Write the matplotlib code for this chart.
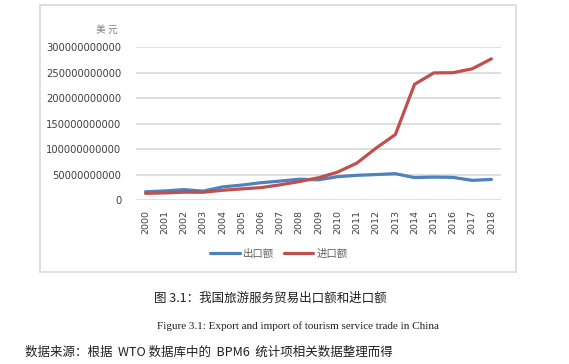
import matplotlib
matplotlib.use("Agg")
import matplotlib.pyplot as plt
from matplotlib.patches import Rectangle
from matplotlib.ticker import FuncFormatter

plt.rcParams['font.family'] = ['Noto Sans CJK SC', 'DejaVu Sans']

years = [str(y) for y in range(2000, 2019)]
export_vals = [16.2e9, 17.8e9, 20.4e9, 17.4e9, 25.7e9, 29.3e9, 33.9e9, 37.2e9, 40.8e9, 39.7e9,
               45.8e9, 48.5e9, 50.0e9, 51.7e9, 44.0e9, 45.0e9, 44.4e9, 38.6e9, 40.4e9]
import_vals = [13.1e9, 13.9e9, 15.4e9, 15.2e9, 19.1e9, 21.8e9, 24.3e9, 29.8e9, 36.2e9, 43.7e9,
               54.9e9, 72.6e9, 102.0e9, 128.6e9, 227.3e9, 249.7e9, 250.1e9, 257.7e9, 277.3e9]
series_names = ['出口额', '进口额']
y_ticks = [0, 50e9, 100e9, 150e9, 200e9, 250e9, 300e9]

fig = plt.figure(figsize=(5.69, 3.64), dpi=100)
fig.patch.set_facecolor('white')

# chart frame
fig.patches.append(Rectangle((40/569, 1-272/364), (516-40)/569, (272-5)/364,
                             transform=fig.transFigure, fill=False,
                             edgecolor='#d9d9d9', linewidth=1.2, zorder=0))

ax = fig.add_axes([136/569, 1-200/364, (501-136)/569, (200-47.3)/364])
x = list(range(len(years)))
l1, = ax.plot(x, export_vals, color='#4F81BD', linewidth=2.3, solid_capstyle='round', label=series_names[0])
l2, = ax.plot(x, import_vals, color='#C0504D', linewidth=2.3, solid_capstyle='round', label=series_names[1])

ax.set_xlim(-0.5, len(years)-0.5)
ax.set_ylim(0, 300e9)
ax.set_yticks(y_ticks)
ax.yaxis.set_major_formatter(FuncFormatter(lambda v, p: f"{int(round(v))}"))
ax.set_xticks(x)
ax.set_xticklabels(years, rotation=90, fontsize=6.8, color='#404040', family='DejaVu Sans')
for lab in ax.get_yticklabels():
    lab.set_fontsize(7.2)
    lab.set_color('#404040')
    lab.set_family('DejaVu Sans')
ax.tick_params(axis='both', length=0)
ax.tick_params(axis='y', pad=10.5)
ax.tick_params(axis='x', pad=7)
ax.grid(axis='y', color='#d9d9d9', linewidth=1.2)
ax.set_axisbelow(True)
for s in ax.spines.values():
    s.set_visible(False)

fig.text(118/569, 1-30/364, '美 元', ha='right', va='center', fontsize=7, color='#808080')

fig.legend(handles=[l1, l2], loc='center', bbox_to_anchor=(279/569, 1-254/364), ncol=2,
           frameon=False, fontsize=7.5, handlelength=2.8, columnspacing=1.0, handletextpad=0.3,
           labelcolor='#606060')

fig.text(270/569, 1-298/364, '图 3.1：我国旅游服务贸易出口额和进口额', ha='center', va='center',
         fontsize=9, color='#202020')
fig.text(298/569, 1-326/364, 'Figure 3.1: Export and import of tourism service trade in China',
         ha='center', va='center', fontsize=8, color='#202020', family='Liberation Serif')
fig.text(25/569, 1-352/364, '数据来源：根据  WTO 数据库中的  BPM6  统计项相关数据整理而得',
         ha='left', va='center', fontsize=9, color='#202020')

fig.savefig('out.png', dpi=100, facecolor='white')
